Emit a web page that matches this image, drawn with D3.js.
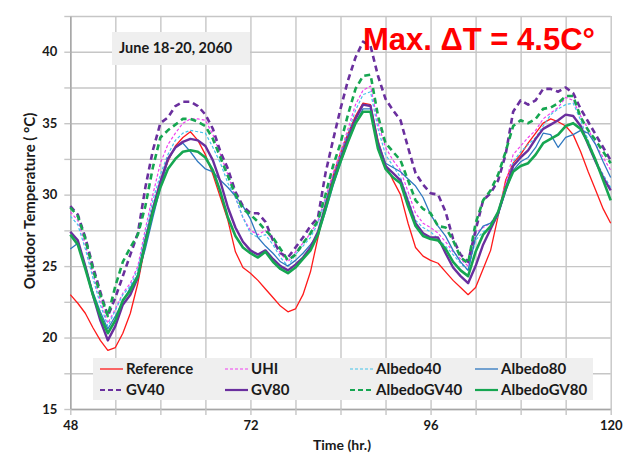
<!DOCTYPE html>
<html lang="en">
<head>
<meta charset="utf-8">
<title>June 18-20, 2060</title>
<script type="text/javascript" src="https://d3js.org/d3.v7.min.js"></script>
<style>
  body { margin: 0; background: #fff; }
  .tick text { font-family: Lato, "Open Sans", sans-serif; font-weight: bold; font-size: 13px; fill: #1a1a1a; }
  .grid line { stroke: #c6c6c6; stroke-width: 1.4; }
  .grid .domain { display: none; }
  .legtxt { font-family: Lato, "Open Sans", sans-serif; font-weight: bold; font-size: 15px; fill: #1a1a1a; }
</style>
</head>
<body>
<div id="chart"></div>
<script type="text/javascript">

var w = 629;
var h = 459;

// hours 48..120, one value per hour
var hours = d3.range(48, 121);

var reference = [23.0,22.4,21.7,20.7,19.8,19.1,19.3,20.3,21.7,23.8,26.5,29.0,30.9,32.3,33.4,34.0,34.4,33.8,32.8,31.4,29.8,28.2,26.0,24.9,
  24.5,24.0,23.4,22.8,22.2,21.8,22.0,23.0,24.6,27.0,29.4,31.3,32.9,34.3,35.5,36.4,36.3,33.8,32.1,31.0,30.0,28.0,26.3,25.7,
  25.4,25.2,24.6,24.0,23.5,23.0,23.5,24.8,26.1,28.5,31.0,32.2,32.8,33.6,34.3,35.0,35.3,35.1,34.8,34.2,33.0,31.6,30.3,29.0,28.0];
var uhi = [28.8,28.2,26.5,24.5,22.6,21.0,22.0,23.1,23.8,25.0,27.6,30.0,32.2,33.5,34.3,35.0,35.3,35.3,35.2,34.2,32.8,31.4,29.8,28.4,
  27.5,27.2,27.5,26.8,25.9,25.3,26.0,26.6,27.3,28.2,29.8,31.5,33.0,34.6,36.3,37.3,37.6,35.0,33.3,32.4,31.7,30.2,28.7,28.0,
  27.7,27.3,26.7,26.0,25.5,25.0,27.3,27.7,28.0,28.8,30.8,32.8,33.4,34.0,34.5,35.3,35.7,36.1,36.8,36.6,35.5,34.6,33.5,32.6,31.7];
var albedo40 = [28.5,27.9,26.2,24.2,22.3,20.8,21.9,23.0,23.6,24.8,27.3,29.6,31.4,32.8,33.8,34.3,34.5,34.4,34.3,33.3,32.2,30.8,29.8,28.4,
  27.3,27.0,27.2,26.5,25.6,25.0,25.8,26.4,27.0,28.0,29.6,31.2,32.8,34.3,35.9,37.0,37.2,34.6,32.8,32.0,31.2,29.7,28.2,27.7,
  27.4,26.9,26.4,25.8,25.2,24.7,26.8,27.4,27.7,28.5,30.4,32.3,33.0,33.5,34.0,34.8,35.6,36.0,36.3,36.4,35.2,33.8,32.4,31.4,30.5];
var albedo80 = [26.2,26.6,25.0,23.2,21.8,20.6,21.5,22.5,23.5,24.4,26.2,28.4,30.5,32.4,33.3,33.6,33.0,32.3,31.8,31.6,31.0,30.5,29.9,29.2,
  28.3,27.0,26.4,25.9,25.3,25.0,25.4,25.9,26.5,27.2,28.8,30.6,32.2,33.7,35.0,36.0,36.0,33.7,32.2,31.9,31.6,31.1,30.6,29.8,
  28.6,27.8,27.1,26.1,25.3,24.7,27.0,27.8,28.0,28.6,30.2,31.7,32.3,32.6,33.3,34.3,34.2,33.3,34.0,34.2,34.5,34.3,33.5,32.3,31.2];
var gv40 = [29.2,28.6,27.0,25.0,23.2,21.5,22.8,24.3,25.8,27.3,30.5,33.1,35.0,35.4,36.2,36.5,36.5,36.2,35.6,34.6,33.0,31.8,30.2,29.2,
  28.7,28.7,28.1,26.8,25.9,25.6,26.3,27.0,27.8,28.4,31.5,33.8,36.0,38.0,39.6,40.7,40.4,38.3,36.7,35.9,35.2,33.3,31.5,30.7,
  30.1,30.0,28.8,26.9,25.8,25.3,27.5,29.6,30.1,31.0,32.8,35.8,36.6,36.3,36.6,37.4,37.4,37.2,37.5,37.1,36.0,35.1,34.2,33.3,32.4];
var gv80 = [27.4,26.8,25.0,23.0,21.2,19.8,20.8,22.3,23.0,24.2,26.8,29.0,30.9,32.5,33.3,33.7,33.9,33.8,33.4,32.4,30.9,29.1,27.7,26.7,
  26.1,25.8,26.1,25.5,25.0,24.7,25.1,25.6,26.3,27.4,29.2,31.0,32.5,34.0,35.3,36.3,36.2,33.5,32.0,31.5,31.0,29.5,28.0,27.3,
  27.0,27.0,25.9,24.9,24.3,23.8,25.0,26.5,27.6,28.7,30.4,32.0,32.6,33.1,33.9,34.6,34.9,35.2,35.6,35.5,34.8,33.5,32.3,31.2,30.3];
var albedoGV40 = [29.1,28.5,26.9,24.8,23.0,21.5,23.6,25.3,26.3,27.2,29.2,31.9,34.0,34.5,34.9,35.3,35.3,35.1,34.8,33.9,32.6,31.3,30.0,29.0,
  28.6,28.1,27.5,27.0,26.2,25.4,25.8,26.6,27.3,28.2,30.0,32.0,33.6,35.6,37.4,38.3,38.4,35.5,33.6,33.0,32.4,31.0,29.6,29.0,
  28.7,27.8,27.7,26.8,25.6,25.2,28.0,29.6,30.3,31.4,33.0,34.8,35.2,35.0,35.3,36.0,36.1,36.4,36.9,36.9,35.4,34.5,33.8,33.0,32.2];
var albedoGV80 = [27.2,26.5,24.8,23.0,21.5,20.3,21.2,22.6,23.3,24.3,26.6,28.8,30.5,31.8,32.5,33.0,33.1,33.0,32.6,31.7,30.2,28.4,27.1,26.3,
  25.9,25.6,26.0,25.3,24.8,24.5,24.9,25.5,26.1,27.2,29.0,30.8,32.3,33.7,35.0,35.8,35.8,33.2,31.8,31.2,30.8,29.2,27.8,27.1,
  26.9,26.8,26.2,25.3,24.7,24.3,26.0,27.2,27.8,28.8,30.4,31.6,32.0,32.2,32.8,33.6,33.9,34.2,34.8,35.0,34.6,33.6,32.4,31.0,29.6];

var seriesNames = ["Reference", "UHI", "Albedo40", "Albedo80", "GV40", "GV80", "AlbedoGV40", "AlbedoGV80"];
var seriesValues = [reference, uhi, albedo40, albedo80, gv40, gv80, albedoGV40, albedoGV80];
var seriesColors = ["#ff1a1a", "#f040f0", "#45c3ea", "#2f78c0", "#6a2f9e", "#6a2f9e", "#16a651", "#16a651"];
var seriesWidths = [1.3, 1.2, 1.2, 1.3, 2.6, 2.4, 2.6, 2.6];
var seriesDash = [null, "3,2", "3,2", null, "6,4", null, "6,4", null];

var xTicks = [48, 72, 96, 120];
var yTicks = [15, 20, 25, 30, 35, 40];
var xGrid = [48, 54, 60, 66, 72, 78, 84, 90, 96, 102, 108, 114, 120];
var yGrid = [15, 17.5, 20, 22.5, 25, 27.5, 30, 32.5, 35, 37.5, 40, 42.5];

var svg = d3.select("div#chart").append("svg")
  .attr("width", w).attr("height", h);

var x = d3.scaleLinear().domain([48, 120]).range([70.3, 610.7]);
var y = d3.scaleLinear().domain([15, 42.5]).range([409, 16]);

// grid
svg.append("g").attr("class", "grid")
  .attr("transform", "translate(0," + y(15) + ")")
  .call(d3.axisBottom(x).tickValues(xGrid).tickSize(-(y(15) - y(42.5))).tickFormat(""));
svg.append("g").attr("class", "grid")
  .attr("transform", "translate(" + x(48) + ",0)")
  .call(d3.axisLeft(y).tickValues(yGrid).tickSize(-(x(120) - x(48))).tickFormat(""));

// axes
var xAxis = svg.append("g")
  .attr("transform", "translate(0," + y(15) + ")")
  .call(d3.axisBottom(x).tickValues(xTicks).tickSize(0).tickPadding(12));
xAxis.select(".domain").attr("stroke", "#a6a6a6").attr("stroke-width", 1.5);
var yAxis = svg.append("g")
  .attr("transform", "translate(" + x(48) + ",0)")
  .call(d3.axisLeft(y).tickValues(yTicks).tickSize(0).tickPadding(13));
yAxis.select(".domain").attr("stroke", "#a6a6a6").attr("stroke-width", 1.5);

// small tick marks
svg.append("g").attr("class", "grid")
  .attr("transform", "translate(0," + y(15) + ")")
  .call(d3.axisBottom(x).tickValues(xGrid).tickSize(6).tickFormat(""));
svg.append("g").attr("class", "grid")
  .attr("transform", "translate(" + x(48) + ",0)")
  .call(d3.axisLeft(y).tickValues(yGrid).tickSize(6).tickFormat(""));

// lines
var line = d3.line()
  .x(function(d, i) { return x(hours[i]); })
  .y(function(d) { return y(d); });

svg.append("g").selectAll("path")
  .data(seriesValues)
  .enter()
  .append("path")
  .attr("d", line)
  .attr("fill", "none")
  .attr("stroke", function(d, i) { return seriesColors[i]; })
  .attr("stroke-width", function(d, i) { return seriesWidths[i]; })
  .attr("stroke-dasharray", function(d, i) { return seriesDash[i]; })
  .attr("stroke-linejoin", "round");

// title box
svg.append("rect").attr("x", 112).attr("y", 32).attr("width", 138).attr("height", 33).attr("fill", "#efefef");
svg.append("text").text("June 18-20, 2060")
  .attr("x", 119).attr("y", 53)
  .attr("font-family", "Lato, 'Open Sans', sans-serif").attr("font-weight", "bold")
  .attr("font-size", "14.5px").attr("fill", "#1a1a1a");

svg.append("text").text("Max. \u0394T = 4.5C\u00b0")
  .attr("x", 363).attr("y", 49.5)
  .attr("font-family", "'Liberation Sans', Arial, sans-serif").attr("font-weight", "bold")
  .attr("font-size", "31px").attr("fill", "#ff0000");

// axis titles
svg.append("text").text("Time (hr.)")
  .attr("x", 342).attr("y", 450).attr("text-anchor", "middle")
  .attr("font-family", "Lato, 'Open Sans', sans-serif").attr("font-weight", "bold")
  .attr("font-size", "14px").attr("fill", "#1a1a1a");
svg.append("text").text("Outdoor Temperature ( \u00b0C)")
  .attr("transform", "translate(35,201) rotate(-90)").attr("text-anchor", "middle")
  .attr("font-family", "Lato, 'Open Sans', sans-serif").attr("font-weight", "bold")
  .attr("font-size", "15px").attr("fill", "#1a1a1a");

// legend
var legend = svg.append("g");
legend.append("rect").attr("x", 93).attr("y", 358).attr("width", 500).attr("height", 42).attr("fill", "#efefef");
var items = legend.selectAll("g.item")
  .data(seriesNames)
  .enter().append("g")
  .attr("transform", function(d, i) { return "translate(" + (100 + (i % 4) * 125) + "," + (369 + Math.floor(i / 4) * 21) + ")"; });
items.append("line")
  .attr("x1", 0).attr("x2", 23).attr("y1", 0).attr("y2", 0)
  .attr("stroke", function(d, i) { return seriesColors[i]; })
  .attr("stroke-width", function(d, i) { return Math.min(seriesWidths[i], 2.2); })
  .attr("stroke-dasharray", function(d, i) { return seriesDash[i] ? (seriesWidths[i] > 2 ? "5,3" : "3,2") : null; });
items.append("text").text(function(d) { return d; })
  .attr("class", "legtxt")
  .attr("x", 26).attr("y", 5);

</script>
</body>
</html>
